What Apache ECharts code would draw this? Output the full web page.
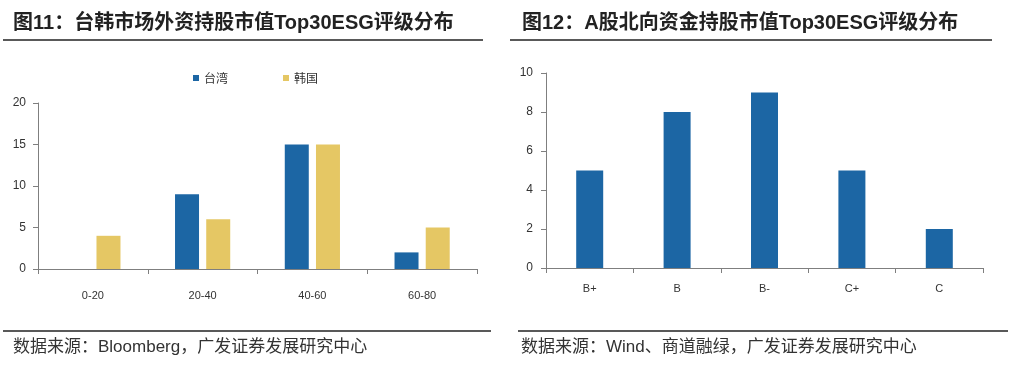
<!DOCTYPE html>
<html><head><meta charset="utf-8">
<script src="https://cdn.jsdelivr.net/npm/echarts@6/dist/echarts.min.js"></script>
<style>html,body{margin:0;padding:0;background:#fff}#c{width:1015px;height:369px}</style>
</head><body><div id="c"></div>
<script>
const leftCategories = ['0-20', '20-40', '40-60', '60-80'];
const taiwanValues = [0, 9, 15, 2];
const koreaValues = [4, 6, 15, 5];
const rightCategories = ['B+', 'B', 'B-', 'C+', 'C'];
const northboundValues = [5, 8, 9, 5, 2];
const leftTitle = '图11：台韩市场外资持股市值Top30ESG评级分布';
const rightTitle = '图12：A股北向资金持股市值Top30ESG评级分布';
const leftSource = '数据来源：Bloomberg，广发证券发展研究中心';
const rightSource = '数据来源：Wind、商道融绿，广发证券发展研究中心';

const BLUE = '#1c66a4', YELLOW = '#e5c764';
const FONT = '"Liberation Sans", Arial, "Noto Sans CJK SC", sans-serif';
const chart = echarts.init(document.getElementById('c'));
const axisLine = {show: true, lineStyle: {color: '#7f7f7f', width: 1}};
chart.setOption({
  animation: false,
  textStyle: {fontFamily: FONT},
  grid: [
    {left: 38, right: 538, top: 103, bottom: 100},
    {left: 546, right: 32, top: 73, bottom: 101}
  ],
  legend: {
    data: ['台湾', '韩国'], left: 188, top: 67, itemWidth: 6, itemHeight: 6, itemGap: 55,
    icon: 'rect', textStyle: {fontSize: 12, color: '#333', fontFamily: '"Noto Sans CJK SC", sans-serif'}
  },
  xAxis: [
    {type: 'category', gridIndex: 0, data: leftCategories, axisLine: axisLine,
     axisTick: {show: true, length: 5, lineStyle: {color: '#7f7f7f'}},
     axisLabel: {color: '#333', fontSize: 11, margin: 21}},
    {type: 'category', gridIndex: 1, data: rightCategories, axisLine: axisLine,
     axisTick: {show: true, length: 5, lineStyle: {color: '#7f7f7f'}},
     axisLabel: {color: '#333', fontSize: 11, margin: 15}}
  ],
  yAxis: [
    {type: 'value', gridIndex: 0, min: 0, max: 20, interval: 5, axisLine: axisLine,
     axisTick: {show: true, length: 5, lineStyle: {color: '#7f7f7f'}}, splitLine: {show: false},
     axisLabel: {color: '#333', fontSize: 12, margin: 12}},
    {type: 'value', gridIndex: 1, min: 0, max: 10, interval: 2, axisLine: axisLine,
     axisTick: {show: true, length: 5, lineStyle: {color: '#7f7f7f'}}, splitLine: {show: false},
     axisLabel: {color: '#333', fontSize: 12, margin: 13}}
  ],
  series: [
    {name: '台湾', type: 'bar', xAxisIndex: 0, yAxisIndex: 0, data: taiwanValues, barWidth: 24, barGap: '30%', itemStyle: {color: BLUE}},
    {name: '韩国', type: 'bar', xAxisIndex: 0, yAxisIndex: 0, data: koreaValues, barWidth: 24, barGap: '30%', itemStyle: {color: YELLOW}},
    {name: '北向', type: 'bar', xAxisIndex: 1, yAxisIndex: 1, data: northboundValues, barWidth: 27, itemStyle: {color: BLUE}}
  ],
  graphic: [
    {type: 'text', left: 13, top: 13, style: {text: leftTitle, font: 'bold 20px "Liberation Sans", "Noto Sans CJK SC", sans-serif', fill: '#222'}},
    {type: 'text', left: 522, top: 13, style: {text: rightTitle, font: 'bold 20px "Liberation Sans", "Noto Sans CJK SC", sans-serif', fill: '#222'}},
    {type: 'line', shape: {x1: 3, y1: 40, x2: 483, y2: 40}, style: {stroke: '#222', lineWidth: 1.5}},
    {type: 'line', shape: {x1: 510, y1: 40, x2: 992, y2: 40}, style: {stroke: '#222', lineWidth: 1.5}},
    {type: 'line', shape: {x1: 3, y1: 331, x2: 491, y2: 331}, style: {stroke: '#222', lineWidth: 1.5}},
    {type: 'line', shape: {x1: 518, y1: 331, x2: 1008, y2: 331}, style: {stroke: '#222', lineWidth: 1.5}},
    {type: 'text', left: 13, top: 339, style: {text: leftSource, font: '17px "Liberation Sans", "Noto Sans CJK SC", sans-serif', fill: '#333'}},
    {type: 'text', left: 521, top: 339, style: {text: rightSource, font: '17px "Liberation Sans", "Noto Sans CJK SC", sans-serif', fill: '#333'}}
  ]
});
</script></body></html>
